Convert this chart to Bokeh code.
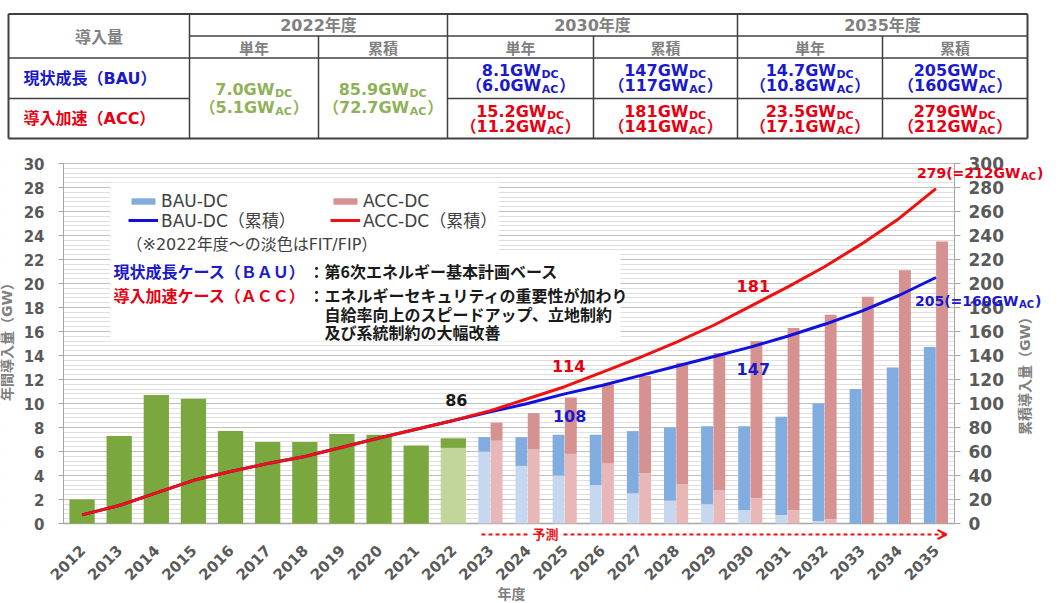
import math
from bokeh.plotting import figure
from bokeh.models import (ColumnDataSource, Range1d, LinearAxis, FixedTicker,
                          Label, Legend, LegendItem, Arrow, OpenHead)
from bokeh.embed import file_html
from bokeh.resources import INLINE

# ---------------- data ----------------
years_hist = [2012, 2013, 2014, 2015, 2016, 2017, 2018, 2019, 2020, 2021, 2022]
annual_hist = [2.0, 7.3, 10.7, 10.4, 7.7, 6.8, 6.8, 7.45, 7.4, 6.5, 7.1]
fit_hist = [0, 0, 0, 0, 0, 0, 0, 0, 0, 0, 6.3]          # pale (FIT/FIP) part
cum_hist = [7.2, 15.0, 25.5, 36.0, 43.4, 50.0, 55.8, 63.5, 71.2, 78.6, 85.9]

years_proj = [2023, 2024, 2025, 2026, 2027, 2028, 2029, 2030, 2031, 2032, 2033, 2034, 2035]
bau_annual = [7.2, 7.2, 7.4, 7.4, 7.7, 8.0, 8.1, 8.1, 8.9, 10.0, 11.2, 13.0, 14.7]
bau_fit = [6.0, 4.8, 4.0, 3.2, 2.5, 1.9, 1.6, 1.1, 0.7, 0.2, 0.0, 0.0, 0.0]
acc_annual = [8.4, 9.2, 10.5, 11.6, 12.3, 13.4, 14.2, 15.2, 16.3, 17.4, 18.9, 21.1, 23.5]
acc_fit = [6.9, 6.2, 5.8, 5.0, 4.2, 3.3, 2.8, 2.1, 1.1, 0.35, 0.0, 0.0, 0.0]
bau_cum = [93, 100, 108, 115, 123, 131, 139, 147, 156, 166, 177, 190, 205]
acc_cum = [94, 104, 114, 126, 138, 151, 165, 181, 197, 214, 233, 254, 279]

left_ticks = [0, 2, 4, 6, 8, 10, 12, 14, 16, 18, 20, 22, 24, 26, 28, 30]
right_ticks = [0, 20, 40, 60, 80, 100, 120, 140, 160, 180, 200, 220, 240, 260, 280, 300]

# table
tbl_head = "導入量"
tbl_periods = ["2022年度", "2030年度", "2035年度"]
tbl_subheads = ["単年", "累積"]
tbl_rows = ["現状成長（BAU）", "導入加速（ACC）"]
tbl_2022_dc = ["7.0", "85.9"]
tbl_2022_ac = ["5.1", "72.7"]
tbl_bau_dc = ["8.1", "147", "14.7", "205"]
tbl_bau_ac = ["6.0", "117", "10.8", "160"]
tbl_acc_dc = ["15.2", "181", "23.5", "279"]
tbl_acc_ac = ["11.2", "141", "17.1", "212"]

# ---------------- styles ----------------
FONT_LAT = "DejaVu Sans, Noto Sans CJK JP"
FONT_CJK = "Noto Sans CJK JP"
GREEN, LGREEN = "#7aa83f", "#c2d69b"
BLUE_BAR, LBLUE = "#80ace0", "#c5d8f0"
RED_BAR, LRED = "#d69191", "#e8b7b7"
LINE_BLUE, LINE_RED = "#1111dd", "#ee1111"
TXT_BLUE, TXT_RED, TXT_GREEN = "#1a1acc", "#e60012", "#8fb158"
GRAY, TICK, DARK = "#808080", "#595959", "#1a1a1a"

EM = {".": .38, "G": .821, "W": 1.03, "D": .83, "C": .734, "A": .774, "=": .838,
      "(": .457, ")": .457}
for d in "0123456789":
    EM[d] = .696


def tw(s, size):
    return sum(EM.get(c, 1.0 if ord(c) > 0x2E80 else 0.7) for c in s) * size


# ---------------- single figure, frame = whole canvas ----------------
W, H = 1059, 603
XL, XR = 63, 954          # page x of left / right value axes
YT, YB = 163, 523         # page y of 30 GW / 0 GW
XU = (XR - XL) / 24.0
YU = (YB - YT) / 30.0
x_start = 2011.5 - XL / XU
x_end = 2035.5 + (W - XR) / XU
y_start = -(H - YB) / YU
y_end = 30 + YT / YU

p = figure(width=W, height=H, x_range=Range1d(x_start, x_end), y_range=Range1d(y_start, y_end),
           output_backend="svg", toolbar_location=None, min_border=0)
p.extra_y_ranges = {"cum": Range1d(y_start * 10, y_end * 10), "py": Range1d(H, 0)}
p.extra_x_ranges = {"px": Range1d(0, W)}
p.outline_line_color = None
p.xgrid.visible = False

PX = dict(x_range_name="px", y_range_name="py")


def lab(text, x, y, size, color, font=FONT_LAT, bold=True, align="left", angle=0.0,
        x_offset=0, y_offset=0, xr="px", yr="py"):
    p.add_layout(Label(x=x, y=y, text=text, text_font=font, text_font_size=f"{size}px",
                       text_font_style="bold" if bold else "normal", text_color=color,
                       text_align=align, text_baseline="middle", angle=angle,
                       x_offset=x_offset, y_offset=y_offset,
                       x_range_name=xr, y_range_name=yr))


def rich(x, y, main, sub, tail, color, size, subsize, anchor_dx, y_offset=0,
         xr="px", yr="py"):
    lab(main, x, y, size, color, align="right", x_offset=anchor_dx, y_offset=y_offset, xr=xr, yr=yr)
    lab(sub, x, y, subsize, color, align="left", x_offset=anchor_dx + 0.5,
        y_offset=y_offset - 4, xr=xr, yr=yr)
    if tail:
        lab(tail, x, y, size, color, align="left", x_offset=anchor_dx + tw(sub, subsize) + 1.5,
            y_offset=y_offset, xr=xr, yr=yr)


def centered_anchor(main, sub, tail, size, subsize):
    wm, ws, wt = tw(main, size), tw(sub, subsize), tw(tail, size)
    return -(wm + ws + wt) / 2 + wm


# ---- axes ----
minor = [round(k * 0.4, 2) for k in range(76) if k % 5]
yax = p.yaxis[0]
yax.ticker = FixedTicker(ticks=left_ticks, minor_ticks=minor)
yax.fixed_location = 2011.5
yax.bounds = (0, 30)
yax.axis_line_color = "#a6a6a6"
yax.major_tick_line_color = "#a6a6a6"
yax.major_tick_out = 5
yax.major_tick_in = 0
yax.minor_tick_line_color = None
yax.major_label_standoff = 14
yax.major_label_text_font = FONT_LAT
yax.major_label_text_font_size = "15px"
yax.major_label_text_font_style = "bold"
yax.major_label_text_color = TICK

p.ygrid.grid_line_color = "#bfbfbf"
p.ygrid.minor_grid_line_color = "#e0e0e0"

rax = LinearAxis(y_range_name="cum", ticker=FixedTicker(ticks=right_ticks), bounds=(0, 300),
                 fixed_location=2035.5)
rax.axis_line_color = "#a6a6a6"
rax.major_tick_line_color = "#a6a6a6"
rax.major_tick_out = 6
rax.major_tick_in = 0
rax.minor_tick_line_color = None
rax.major_label_standoff = 8
rax.major_label_text_font = FONT_LAT
rax.major_label_text_font_size = "17px"
rax.major_label_text_font_style = "bold"
rax.major_label_text_color = TICK
p.add_layout(rax, "right")

years_all = years_hist + years_proj
xax = p.xaxis[0]
xax.ticker = FixedTicker(ticks=years_all)
xax.major_label_overrides = {y: str(y) for y in years_all}
xax.fixed_location = (YB - 545) / YU
xax.axis_line_color = None
xax.major_tick_line_color = None
xax.major_tick_out = 0
xax.minor_tick_line_color = None
xax.major_label_orientation = math.pi / 4
xax.major_label_standoff = 2
xax.major_label_text_font = FONT_LAT
xax.major_label_text_font_size = "15px"
xax.major_label_text_font_style = "bold"
xax.major_label_text_color = TICK

# ---- masks: keep gridlines between the two value axes ----
p.quad(left=[0, XR + 0.5], right=[XL - 0.5, W], top=[YT - 6, YT - 6], bottom=[YB + 2, YB + 2],
       fill_color="white", line_color=None, **PX)

# ---- table ----
cols = [8, 189, 318, 447, 593, 737, 882, 1027]
rows = [13.5, 35.5, 57.5, 98, 138]
LC = "#404040"
p.segment(x0=[cols[0], cols[0], cols[0], cols[7]], y0=[rows[0], rows[4], rows[0], rows[0]],
          x1=[cols[7], cols[7], cols[0], cols[7]], y1=[rows[0], rows[4], rows[4], rows[4]],
          line_color=LC, line_width=2, **PX)
hx0 = [cols[1], cols[0], cols[0], cols[3]]
hx1 = [cols[7], cols[7], cols[1], cols[7]]
hy = [rows[1], rows[2], rows[3], rows[3]]
p.segment(x0=hx0, y0=hy, x1=hx1, y1=hy, line_color=LC, line_width=1.5, **PX)
vx = [cols[1], cols[3], cols[5], cols[2], cols[4], cols[6]]
vy0 = [rows[0]] * 3 + [rows[1]] * 3
p.segment(x0=vx, y0=vy0, x1=vx, y1=[rows[4]] * 6, line_color=LC, line_width=1.5, **PX)

lab(tbl_head, (cols[0] + cols[1]) / 2, (rows[0] + rows[2]) / 2, 16, GRAY, font=FONT_CJK, align="center")
for i, per in enumerate(tbl_periods):
    lab(per, (cols[1 + 2 * i] + cols[3 + 2 * i]) / 2, (rows[0] + rows[1]) / 2, 16, GRAY, align="center")
    for j, sh in enumerate(tbl_subheads):
        lab(sh, (cols[1 + 2 * i + j] + cols[2 + 2 * i + j]) / 2, (rows[1] + rows[2]) / 2, 15, GRAY,
            font=FONT_CJK, align="center")
lab(tbl_rows[0], cols[0] + 15, (rows[2] + rows[3]) / 2, 16, TXT_BLUE)
lab(tbl_rows[1], cols[0] + 15, (rows[3] + rows[4]) / 2, 16, TXT_RED)

ym = (rows[2] + rows[4]) / 2
for j in range(2):
    cx = (cols[1 + j] + cols[2 + j]) / 2
    m = tbl_2022_dc[j] + "GW"
    rich(cx, ym - 9, m, "DC", "", TXT_GREEN, 16, 11, centered_anchor(m, "DC", "", 16, 11))
    m = "（" + tbl_2022_ac[j] + "GW"
    rich(cx, ym + 9, m, "AC", "）", TXT_GREEN, 16, 11, centered_anchor(m, "AC", "）", 16, 11))

for k in range(4):
    cx = (cols[3 + k] + cols[4 + k]) / 2
    for r, (dc, ac, colr) in enumerate([(tbl_bau_dc, tbl_bau_ac, TXT_BLUE),
                                        (tbl_acc_dc, tbl_acc_ac, TXT_RED)]):
        yc = (rows[2 + r] + rows[3 + r]) / 2
        m = dc[k] + "GW"
        rich(cx, yc - 7.5, m, "DC", "", colr, 16, 11, centered_anchor(m, "DC", "", 16, 11))
        m = "（" + ac[k] + "GW"
        rich(cx, yc + 7.5, m, "AC", "）", colr, 16, 11, centered_anchor(m, "AC", "）", 16, 11))

# ---- white boxes behind legend / notes ----
p.quad(left=[110, 110], right=[498, 620], top=[182, 253], bottom=[253, 341],
       fill_color="white", line_color=None, **PX)

# ---- bars ----
p.segment(x0=[2011.5], y0=[0], x1=[2035.5], y1=[0], line_color="#a6a6a6", line_width=1.5)

src_h = ColumnDataSource(dict(year=years_hist, total=annual_hist, fit=fit_hist))
p.vbar(x="year", top="fit", bottom=0, width=0.68, source=src_h, fill_color=LGREEN, line_color=None)
p.vbar(x="year", top="total", bottom="fit", width=0.68, source=src_h, fill_color=GREEN, line_color=None)

src_p = ColumnDataSource(dict(year_b=[y - 0.165 for y in years_proj],
                              year_a=[y + 0.165 for y in years_proj],
                              bau=bau_annual, bau_fit=bau_fit, acc=acc_annual, acc_fit=acc_fit))
p.vbar(x="year_b", top="bau_fit", bottom=0, width=0.32, source=src_p, fill_color=LBLUE, line_color=None)
r_bau = p.vbar(x="year_b", top="bau", bottom="bau_fit", width=0.32, source=src_p,
               fill_color=BLUE_BAR, line_color=None)
p.vbar(x="year_a", top="acc_fit", bottom=0, width=0.32, source=src_p, fill_color=LRED, line_color=None)
r_acc = p.vbar(x="year_a", top="acc", bottom="acc_fit", width=0.32, source=src_p,
               fill_color=RED_BAR, line_color=None)

# ---- cumulative lines ----
src_bl = ColumnDataSource(dict(year=years_all, cum=cum_hist + bau_cum))
src_al = ColumnDataSource(dict(year=years_all, cum=cum_hist + acc_cum))
r_bl = p.line("year", "cum", source=src_bl, y_range_name="cum", line_color=LINE_BLUE,
              line_width=3, line_join="round")
r_al = p.line("year", "cum", source=src_al, y_range_name="cum", line_color=LINE_RED,
              line_width=3, line_join="round")

# ---- legends (one entry each, placed like the reference grid) ----
def add_legend(text, renderer, px, py_center):
    lg = Legend(items=[LegendItem(label=text, renderers=[renderer])],
                location=(px, H - py_center - 10), padding=0, margin=0, spacing=0,
                glyph_width=30, glyph_height=8, label_height=20, label_standoff=3,
                background_fill_alpha=0, border_line_color=None,
                label_text_font=FONT_LAT, label_text_font_size="17px",
                label_text_color="#404040")
    p.add_layout(lg)


add_legend("BAU-DC", r_bau, 128, 201)
add_legend("ACC-DC", r_acc, 330, 201)
add_legend("BAU-DC（累積）", r_bl, 128, 222)
add_legend("ACC-DC（累積）", r_al, 330, 222)

lab("（※2022年度～の淡色はFIT/FIP）", 126, 244, 16, "#404040", bold=False)
lab("現状成長ケース（ＢＡＵ）", 113, 270, 16, TXT_BLUE, font=FONT_CJK)
lab("：第6次エネルギー基本計画ベース", 308, 270, 16, DARK, font=FONT_CJK)
lab("導入加速ケース（ＡＣＣ）", 113, 294, 16, TXT_RED, font=FONT_CJK)
lab("：エネルギーセキュリティの重要性が加わり", 308, 294, 16, DARK, font=FONT_CJK)
lab("自給率向上のスピードアップ、立地制約", 324, 313, 16, DARK, font=FONT_CJK)
lab("及び系統制約の大幅改善", 324, 331, 16, DARK, font=FONT_CJK)

# ---- value labels on the cumulative lines ----
D = dict(xr="default", yr="cum")
i22 = years_hist.index(2022)
lab(f"{cum_hist[i22]:.0f}", 2022, cum_hist[i22], 16, DARK, align="center", x_offset=3, y_offset=20, **D)
i25, i30, i35 = years_proj.index(2025), years_proj.index(2030), years_proj.index(2035)
lab(f"{bau_cum[i25]}", 2025, bau_cum[i25], 16, TXT_BLUE, align="center", x_offset=5, y_offset=-22, **D)
lab(f"{acc_cum[i25]}", 2025, acc_cum[i25], 16, TXT_RED, align="center", x_offset=4, y_offset=21, **D)
lab(f"{bau_cum[i30]}", 2030, bau_cum[i30], 16, TXT_BLUE, align="center", x_offset=3, y_offset=-22, **D)
lab(f"{acc_cum[i30]}", 2030, acc_cum[i30], 16, TXT_RED, align="center", x_offset=3, y_offset=20, **D)
x35 = XL + (2035 - 2011.5) * XU
rich(2035, acc_cum[i35], f"{acc_cum[i35]}(={tbl_acc_ac[3]}GW", "AC", ")", TXT_RED, 14, 10,
     1020 - x35, y_offset=16, **D)
rich(2035, bau_cum[i35], f"{bau_cum[i35]}(={tbl_bau_ac[3]}GW", "AC", ")", TXT_BLUE, 14, 10,
     1018 - x35, y_offset=-23, **D)

# ---- forecast arrow ----
p.segment(x0=[481], y0=[534], x1=[527], y1=[534], line_color=LINE_RED, line_width=2,
          line_dash="4 3", **PX)
p.add_layout(Arrow(x_start=563, y_start=534, x_end=946, y_end=534, line_color=LINE_RED,
                   line_width=2, line_dash="4 3",
                   end=OpenHead(size=9, line_color=LINE_RED, line_width=2), **PX))
lab("予測", 545, 533, 13, LINE_RED, font=FONT_CJK, align="center")

# ---- axis titles ----
lab("年間導入量（GW）", 6, 338, 14, GRAY, angle=math.pi / 2, align="center")
lab("累積導入量（GW）", 1024, 372, 14, GRAY, angle=math.pi / 2, align="center")
lab("年度", 511, 592, 14, GRAY, font=FONT_CJK, align="center")

open("out.html", "w").write(file_html(p, INLINE))
